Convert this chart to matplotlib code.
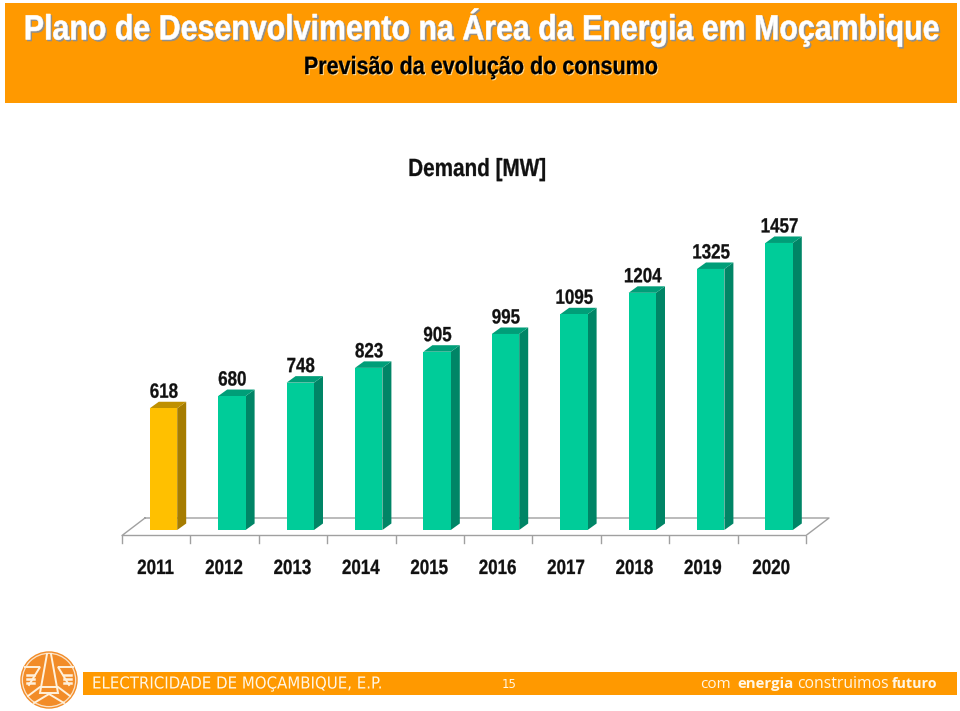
import matplotlib
matplotlib.use("Agg")
import matplotlib.pyplot as plt
from matplotlib.colors import to_rgb
from matplotlib.patheffects import AbstractPathEffect
from matplotlib.patches import Rectangle, Polygon, Circle
from matplotlib.transforms import Affine2D

years = ["2011", "2012", "2013", "2014", "2015", "2016", "2017", "2018", "2019", "2020"]
demand = [618, 680, 748, 823, 905, 995, 1095, 1204, 1325, 1457]
title = "Plano de Desenvolvimento na Área da Energia em Moçambique"
subtitle = "Previsão da evolução do consumo"
chart_title = "Demand [MW]"


class Tall(AbstractPathEffect):
    """Draw glyphs stretched vertically from the baseline (the source type is condensed)."""
    def __init__(self, sy, shadow=None, offset=(1.5, -1.5), embolden=0.0):
        super().__init__()
        self.sy, self.off, self.embolden = sy, offset, embolden
        self.shadow = to_rgb(shadow) if shadow else None

    def draw_path(self, renderer, gc, tpath, affine, rgbFace=None):
        a = Affine2D().scale(1, self.sy) + affine
        gc.set_linewidth(self.embolden)
        if self.shadow:
            gc.set_foreground(self.shadow)
            renderer.draw_path(gc, tpath, a + Affine2D().translate(*self.off), self.shadow)
        gc.set_foreground(rgbFace)
        renderer.draw_path(gc, tpath, a, rgbFace)


W, H = 960, 711
FONT = "Liberation Sans"
fig = plt.figure(figsize=(9.6, 7.11), dpi=100, facecolor="white")

px = fig.add_axes([0, 0, 1, 1], zorder=1)
px.set_xlim(0, W); px.set_ylim(H, 0); px.axis("off")

ORANGE = "#FF9900"
LOGO = "#F28C28"
px.add_patch(Rectangle((5, 3), 952, 100, fc=ORANGE, ec="none"))
px.add_patch(Rectangle((83, 672), 874, 23, fc=ORANGE, ec="none"))

px.text(481, 39.5, title, ha="center", va="baseline", color="white", fontsize=21.85, family=FONT,
        fontweight="bold", path_effects=[Tall(1.16, shadow="#8f8f8f", embolden=0.4)])
px.text(481, 74, subtitle, ha="center", va="baseline", color="black", fontsize=15.5, family=FONT,
        fontweight="bold", path_effects=[Tall(1.16, shadow="#FFE0A0", offset=(1, -1), embolden=0.2)])

# logo
cx, cy = 49, 680
px.add_patch(Circle((cx, cy), 28, fc="#FBE3C8", ec=LOGO, lw=1.0))
px.add_patch(Circle((cx, cy), 26, fc=LOGO, ec="none"))
for pts in [[(cx-2, cy-26), (cx-9, cy+13), (cx+9, cy+13), (cx+2, cy-26)],
            [(cx-21, cy+16), (cx-9, cy+7), (cx+9, cy+7), (cx+21, cy+16)],
            [(cx-15, cy+23), (cx, cy+14), (cx+15, cy+23)],
            [(cx-24, cy-13), (cx-9, cy-13), (cx-20, cy+5)],
            [(cx+24, cy-13), (cx+9, cy-13), (cx+20, cy+5)]]:
    px.plot(*zip(*pts), color="#FFF1DC", lw=1.4, solid_joinstyle="miter")
for sx in (-1, 1):
    for dy in (-5, -1, 3):
        px.plot([cx+sx*15, cx+sx*22], [cy+dy, cy+dy], color="#FFF1DC", lw=1.8)

px.text(92, 688.5, "ELECTRICIDADE DE MOÇAMBIQUE, E.P.", ha="left", va="baseline", color="#FFF6E5",
        fontsize=10.8, family="DejaVu Sans", path_effects=[Tall(1.1)])
px.text(509, 688, "15", ha="center", va="baseline", color="#FFF6E5", fontsize=8.5, family="DejaVu Sans")
for word, weight, xw, fs in [("com", "normal", 700, 11), ("energia", "bold", 737, 10.8),
                             ("construimos", "normal", 797, 11.3), ("futuro", "bold", 892, 10.3)]:
    px.text(xw, 688, word, ha="left", va="baseline", color="#FFF6E5", fontsize=fs,
            family="Open Sans", fontweight=weight)

# chart axes: x in category index, y in MW
step = 68.4; x0_px = 163.5; y0_px = 530; scale = 0.197
ax = fig.add_axes([0, 0, 1, 1], zorder=2)
ax.patch.set_alpha(0); ax.axis("off")
ax.set_xlim(-x0_px / step, (W - x0_px) / step)
ax.set_ylim(-(H - y0_px) / scale, y0_px / scale)

bw = 13.7 / step
ddx = 9 / step
ddy = 6.5 / scale
GRID = "#A0A0A0"

fl = -5.5 / scale
bk = 12 / scale
left = (122 - x0_px) / step
right = left + len(years)
fdx = 23 / step
ax.plot([left + fdx, right + fdx, right, left, left + fdx],
        [bk, bk, fl, fl, bk], color=GRID, lw=1, zorder=1)
for i in range(len(years) + 1):
    ax.plot([left + i, left + i], [fl, fl - 7 / scale], color=GRID, lw=1, zorder=1)

for i, (yr, v) in enumerate(zip(years, demand)):
    if i == 0:
        front, side, top = "#FFC000", "#A67C00", "#BF9000"
    else:
        front, side, top = "#00CC99", "#008566", "#009E78"
    ax.add_patch(Polygon([(i+bw, 0), (i+bw+ddx, ddy), (i+bw+ddx, v+ddy), (i+bw, v)], fc=side, ec="none", zorder=3))
    ax.add_patch(Polygon([(i-bw, v), (i+bw, v), (i+bw+ddx, v+ddy), (i-bw+ddx, v+ddy)], fc=top, ec="none", zorder=3))
    ax.add_patch(Rectangle((i-bw, 0), 2*bw, v, fc=front, ec="none", zorder=4))
    ax.text(i + 0.005, v + 10.5 / scale, str(v), ha="center", va="baseline", fontsize=12.2, family=FONT,
            fontweight="bold", color="#111111", zorder=5, path_effects=[Tall(1.22, embolden=0.2)])
    ax.text(left + i + 0.49, -44 / scale, yr, ha="center", va="baseline", fontsize=12.2, family=FONT,
            fontweight="bold", color="#111111", zorder=5, path_effects=[Tall(1.22, embolden=0.2)])

ax.text((477 - x0_px) / step, (y0_px - 176) / scale, chart_title, ha="center", va="baseline", fontsize=14.9,
        family=FONT, fontweight="bold", color="#111111", path_effects=[Tall(1.2, embolden=0.2)])

fig.savefig("out.png", dpi=100)
